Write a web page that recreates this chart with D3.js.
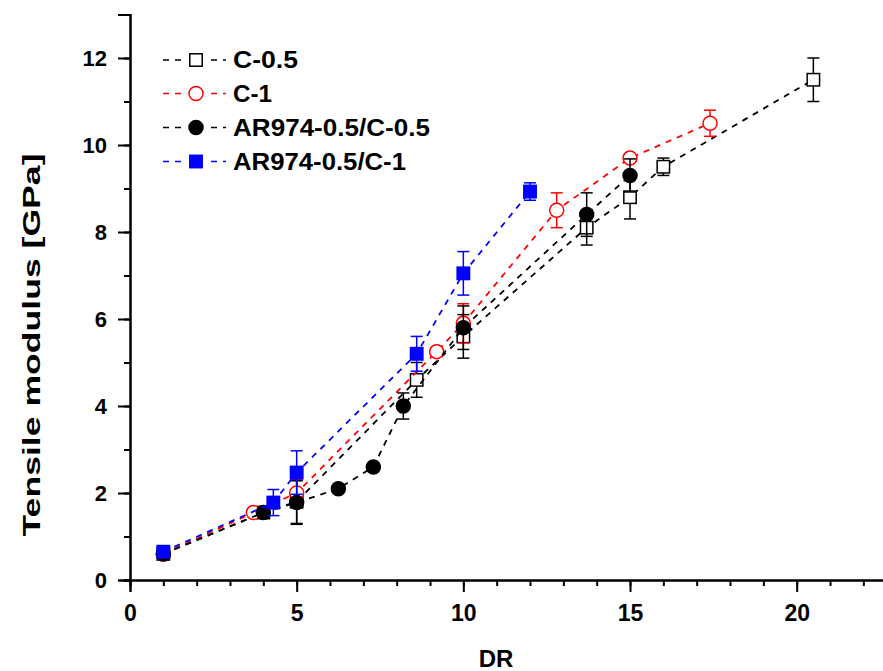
<!DOCTYPE html>
<html>
<head>
<meta charset="utf-8">
<script src="https://cdn.jsdelivr.net/npm/d3@7"></script>
<style>
  html, body { margin: 0; padding: 0; background: #fff; }
  svg { display: block; }
  text { font-family: "Liberation Sans", Arial, sans-serif; font-weight: bold; fill: #000; }
</style>
</head>
<body>
<svg id="chart" width="883" height="671"></svg>
<script>
// ---------- data ----------
const seriesNames = ["C-0.5", "C-1", "AR974-0.5/C-0.5", "AR974-0.5/C-1"];

const c05_DR  = [1, 4, 5, 8.6, 10, 13.7, 15, 16, 20.5];
const c05_val = [0.6, 1.55, 1.8, 4.6, 5.6, 8.1, 8.8, 9.5, 11.5];
const c05_err = [0.05, 0.05, 0.5, 0.4, 0.5, 0.4, 0.5, 0.2, 0.5];

const c1_DR   = [1, 3.7, 5, 9.2, 10, 12.8, 15, 17.4];
const c1_val  = [0.6, 1.55, 2.0, 5.25, 5.9, 8.5, 9.7, 10.5];
const c1_err  = [0.05, 0.05, 0.3, 0.1, 0.45, 0.4, 0.1, 0.3];

const ar05_DR  = [1, 4, 5, 6.25, 7.3, 8.2, 10, 13.7, 15];
const ar05_val = [0.6, 1.55, 1.78, 2.1, 2.6, 4.0, 5.8, 8.4, 9.3];
const ar05_err = [0.05, 0.05, 0.5, 0.05, 0.05, 0.3, 0.5, 0.5, 0.38];

const ar1_DR   = [1, 4.3, 5, 8.6, 10, 12];
const ar1_val  = [0.65, 1.78, 2.47, 5.2, 7.05, 8.93];
const ar1_err  = [0.05, 0.3, 0.5, 0.4, 0.5, 0.2];

const xTicks = [0, 5, 10, 15, 20];
const yTicks = [0, 2, 4, 6, 8, 10, 12];

// ---------- layout ----------
const svg = d3.select("#chart");
const x = d3.scaleLinear().domain([0, 23]).range([130, 896.7]);
const y = d3.scaleLinear().domain([0, 13]).range([580, 14.5]);

const styles = [
  { color: "#000", marker: "square", fill: "#fff" },
  { color: "#ff0000", marker: "circle", fill: "#fff" },
  { color: "#000", marker: "circle", fill: "#000" },
  { color: "#0000ff", marker: "square", fill: "#0000ff" }
];

const series = [
  { name: seriesNames[0], DR: c05_DR, val: c05_val, err: c05_err, st: styles[0] },
  { name: seriesNames[1], DR: c1_DR, val: c1_val, err: c1_err, st: styles[1] },
  { name: seriesNames[2], DR: ar05_DR, val: ar05_val, err: ar05_err, st: styles[2] },
  { name: seriesNames[3], DR: ar1_DR, val: ar1_val, err: ar1_err, st: styles[3] }
];

// ---------- axes ----------
const xAxisMinor = d3.axisBottom(x).tickValues(d3.range(0, 24, 1)).tickSize(6).tickFormat("");
const xAxis = d3.axisBottom(x).tickValues(xTicks).tickSize(12).tickPadding(13).tickFormat(d3.format("d"));
const yAxisMinor = d3.axisLeft(y).tickValues(d3.range(0, 14, 1)).tickSize(6).tickFormat("");
const yAxis = d3.axisLeft(y).tickValues(yTicks).tickSize(12).tickPadding(11).tickFormat(d3.format("d"));

function styleAxis(g, fs) {
  g.select(".domain").attr("stroke", "#000").attr("stroke-width", 2);
  g.selectAll(".tick line").attr("stroke", "#000").attr("stroke-width", 2);
  g.selectAll(".tick text").style("font-size", fs + "px").style("font-weight", "bold")
    .style("font-family", "'Liberation Sans', Arial, sans-serif").attr("fill", "#000");
}
svg.append("g").attr("transform", "translate(0,580)").call(xAxisMinor).call(g => styleAxis(g, 23));
svg.append("g").attr("transform", "translate(0,580)").call(xAxis).call(g => styleAxis(g, 23));
svg.append("g").attr("transform", "translate(130,0)").call(yAxisMinor).call(g => styleAxis(g, 22));
svg.append("g").attr("transform", "translate(130,0)").call(yAxis).call(g => styleAxis(g, 22));

// axis titles
svg.append("text").attr("x", 496).attr("y", 667).attr("text-anchor", "middle")
  .style("font-size", "24px").text("DR");
svg.append("text").attr("transform", "translate(40,345) rotate(-90)").attr("text-anchor", "middle")
  .attr("textLength", 383).attr("lengthAdjust", "spacingAndGlyphs")
  .style("font-size", "24px").text("Tensile modulus [GPa]");

// ---------- marks ----------
const line = d3.line().x(d => x(d[0])).y(d => y(d[1]));

function drawMarker(g, cx, cy, st) {
  if (st.marker === "square") {
    g.append("rect").attr("x", cx - 6.2).attr("y", cy - 6.2).attr("width", 12.4).attr("height", 12.4)
      .attr("fill", st.fill).attr("stroke", st.color).attr("stroke-width", 1.5);
  } else {
    g.append("circle").attr("cx", cx).attr("cy", cy).attr("r", 7)
      .attr("fill", st.fill).attr("stroke", st.color).attr("stroke-width", 1.5);
  }
}

series.forEach(s => {
  const g = svg.append("g");
  const pts = s.DR.map((d, i) => [d, s.val[i]]);
  g.append("path").attr("d", line(pts)).attr("fill", "none")
    .attr("stroke", s.st.color).attr("stroke-width", 1.8).attr("stroke-dasharray", "6,6");
  // error bars
  pts.forEach((p, i) => {
    const cx = x(p[0]);
    const yt = y(p[1] + s.err[i]), yb = y(p[1] - s.err[i]);
    g.append("line").attr("x1", cx).attr("x2", cx).attr("y1", yt).attr("y2", yb)
      .attr("stroke", s.st.color).attr("stroke-width", 1.5);
    [yt, yb].forEach(yy => g.append("line").attr("x1", cx - 6).attr("x2", cx + 6)
      .attr("y1", yy).attr("y2", yy).attr("stroke", s.st.color).attr("stroke-width", 1.5));
  });
  pts.forEach(p => drawMarker(g, x(p[0]), y(p[1]), s.st));
});

// ---------- legend ----------
const legendRowsY = [60, 93.5, 127.5, 161.5];
const legendWidths = [65, 39, 197, 173];
series.forEach((s, i) => {
  const g = svg.append("g");
  const ly = legendRowsY[i];
  g.append("line").attr("x1", 163).attr("x2", 226).attr("y1", ly).attr("y2", ly)
    .attr("stroke", s.st.color).attr("stroke-width", 1.5).attr("stroke-dasharray", "6,6");
  g.append("rect").attr("x", 186).attr("y", ly - 9).attr("width", 20).attr("height", 18).attr("fill", "#fff");
  drawMarker(g, 196, ly, s.st);
  g.append("text").attr("x", 233).attr("y", ly + 8.3)
    .attr("textLength", legendWidths[i]).attr("lengthAdjust", "spacingAndGlyphs")
    .style("font-size", "23px").text(s.name);
});
</script>
</body>
</html>
